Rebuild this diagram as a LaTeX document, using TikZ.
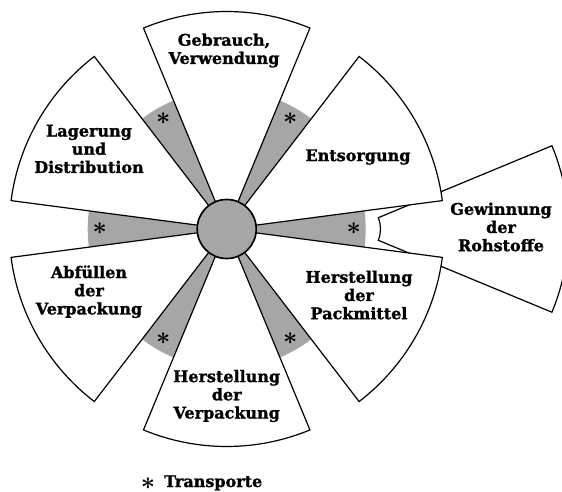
\documentclass[tikz,border=0pt]{standalone}
\usepackage{fontspec}
\setmainfont{DejaVu Serif}
\definecolor{wedgegray}{RGB}{166,166,166}
\begin{document}
\begin{tikzpicture}[x=1pt,y=1pt,
  sectorbox/.style={draw=black, fill=white, line width=1.2pt, line join=miter},
  graywedge/.style={fill=wedgegray},
  hubdisc/.style={circle, draw=black, fill=wedgegray, line width=1.6pt, minimum size=59pt, inner sep=0pt, outer sep=0pt},
  lbl/.style={font=\fontsize{16}{18.2}\selectfont\bfseries\addfontfeature{FakeBold=1.3}, align=center, inner sep=0pt},
  astlbl/.style={font=\fontsize{24}{24}\selectfont\boldmath, inner sep=0pt}
]
\useasboundingbox (0,0) rectangle (562,491);
\clip (0,0) rectangle (562,491);
\def\Rout{217.5}
\def\Rin{29.5}
\def\Rgray{139}
% gray transport wedges
\begin{scope}[shift={(226.7,262)}]
  \foreach \a in {0,60,...,300}{
    \fill[graywedge] (0,0) -- (\a-7.5:\Rgray) arc[start angle=\a-7.5, end angle=\a+7.5, radius=\Rgray] -- cycle;
  }
\end{scope}
% pulled-out sector
\begin{scope}[shift={(351,262)}]
  \draw[sectorbox] (-22.5:\Rin) -- (-22.5:\Rout) arc[start angle=-22.5, end angle=22.5, radius=\Rout] -- (22.5:\Rin) arc[start angle=22.5, end angle=-22.5, radius=\Rin] -- cycle;
\end{scope}
% wheel sectors
\begin{scope}[shift={(226.7,262)}]
  \foreach \a in {30,90,150,210,270,330}{
    \draw[sectorbox] (\a-22.5:\Rin) -- (\a-22.5:\Rout) arc[start angle=\a-22.5, end angle=\a+22.5, radius=\Rout] -- (\a+22.5:\Rin) arc[start angle=\a+22.5, end angle=\a-22.5, radius=\Rin] -- cycle;
  }
  \foreach \a/\n in {0/a,60/b,120/c,180/d,240/e,300/f}{
    \node[astlbl] (ast\n) at (\a:127) {$\ast$};
  }
\end{scope}
\node[hubdisc] (hub) at (226.7,262) {};
% labels
\node[lbl] (gebrauch) at (224,440.5) {Gebrauch,\\Verwendung};
\node[lbl] (entsorgung) at (358,334) {Entsorgung};
\node[lbl] (lagerung) at (89,342) {Lagerung\\und\\Distribution};
\node[lbl] (abfuellen) at (89,199.3) {Abfüllen\\der\\Verpackung};
\node[lbl] (packmittel) at (359,196) {Herstellung\\der\\Packmittel};
\node[lbl] (verpackung) at (226.7,95) {Herstellung\\der\\Verpackung};
\node[lbl] (gewinnung) at (501,264) {Gewinnung\\der\\Rohstoffe};
% legend
\node[astlbl] (legast) at (148,7) {$\ast$};
\node[lbl, anchor=base west] (legend) at (164,4) {Transporte};
\end{tikzpicture}
\end{document}
